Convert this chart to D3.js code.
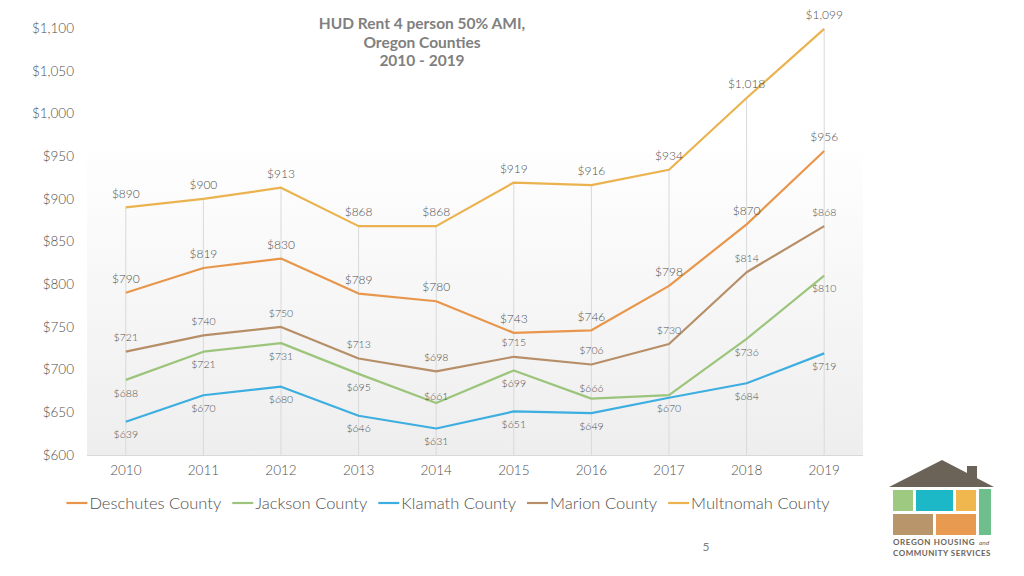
<!DOCTYPE html>
<html>
<head>
<meta charset="utf-8">
<script src="https://cdn.jsdelivr.net/npm/d3@7"></script>
<style>
  html, body { margin: 0; padding: 0; background: #ffffff; }
  svg { display: block; }
  text { font-family: Lato, "Open Sans", sans-serif; }
</style>
</head>
<body>
<svg id="chart" width="1024" height="576"></svg>
<script>
// ---------- DATA ----------
const years = ["2010","2011","2012","2013","2014","2015","2016","2017","2018","2019"];
const deschutes = [790, 819, 830, 789, 780, 743, 746, 798, 870, 956];
const jackson   = [688, 721, 731, 695, 661, 699, 666, 670, 736, 810];
const klamath   = [639, 670, 680, 646, 631, 651, 649, 667, 684, 719];
const marion    = [721, 740, 750, 713, 698, 715, 706, 730, 814, 868];
const multnomah = [890, 900, 913, 868, 868, 919, 916, 934, 1018, 1099];
const seriesNames = ["Deschutes County","Jackson County","Klamath County","Marion County","Multnomah County"];
const yTicks = [600, 650, 700, 750, 800, 850, 900, 950, 1000, 1050, 1100];
const titleLines = ["HUD Rent 4 person 50% AMI,", "Oregon Counties", "2010 - 2019"];

// ---------- STYLE / LAYOUT ----------
const colors = ["#E8964B", "#9CC57B", "#3DAEE0", "#B68E67", "#EBB34F"];
const labelSize = [12, 10.5, 10.5, 10.5, 12];
// label placement: default side per series, with a few exceptions (index -> dy, or null = hidden)
const labelSide = [-14, 13, 13, -14, -14];
const labelExceptions = [{}, {4: -7, 6: -10}, {7: null}, {}, {}];
const textColor = "#4f4f4f";

const series = seriesNames.map((name, i) => ({
  name, color: colors[i],
  values: [deschutes, jackson, klamath, marion, multnomah][i]
}));

const svg = d3.select("#chart");
const plot = { left: 87, right: 863, top: 28, bottom: 455 };

const x = d3.scaleBand().domain(years).range([plot.left, plot.right]);
const xc = d => x(d) + x.bandwidth() / 2;
const y = d3.scaleLinear().domain([600, 1100]).range([plot.bottom, plot.top]);

// background gradient
const defs = svg.append("defs");
const grad = defs.append("linearGradient").attr("id", "bg").attr("x1", 0).attr("y1", 0).attr("x2", 0).attr("y2", 1);
grad.append("stop").attr("offset", "0%").attr("stop-color", "#ffffff");
grad.append("stop").attr("offset", "15%").attr("stop-color", "#ffffff");
grad.append("stop").attr("offset", "100%").attr("stop-color", "#eeeeee");
svg.append("rect").attr("x", plot.left).attr("y", y(1050) + 10)
  .attr("width", plot.right - plot.left).attr("height", plot.bottom - y(1050) - 10)
  .attr("fill", "url(#bg)");

// drop lines from highest value to axis
const maxByYear = years.map((yr, i) => d3.max(series, s => s.values[i]));
svg.append("g").selectAll("line").data(years).join("line")
  .attr("x1", d => xc(d)).attr("x2", d => xc(d))
  .attr("y1", (d, i) => y(maxByYear[i])).attr("y2", plot.bottom)
  .attr("stroke", "#d9d9d9").attr("stroke-width", 1);

// bottom axis line
svg.append("line").attr("x1", plot.left).attr("x2", plot.right)
  .attr("y1", plot.bottom + 0.5).attr("y2", plot.bottom + 0.5)
  .attr("stroke", "#d9d9d9").attr("stroke-width", 1);

// Y axis
const yAxis = d3.axisLeft(y).tickValues(yTicks).tickSize(0).tickPadding(0)
  .tickFormat(d => "$" + d3.format(",")(d));
const gy = svg.append("g").attr("transform", `translate(74,0)`).call(yAxis);
gy.select(".domain").remove();
gy.selectAll("text").attr("font-size", 13.5).attr("fill", textColor).attr("font-weight", 300)
  .attr("font-family", "Lato, sans-serif");

// X axis
const xAxis = d3.axisBottom(x).tickSize(0).tickPadding(0);
const gx = svg.append("g").attr("transform", `translate(0,${plot.bottom + 10})`).call(xAxis);
gx.select(".domain").remove();
gx.selectAll("text").attr("font-size", 13.5).attr("fill", textColor).attr("font-weight", 300)
  .attr("font-family", "Lato, sans-serif");

// lines
const line = d3.line().x((d, i) => xc(years[i])).y(d => y(d));
svg.append("g").selectAll("path").data(series).join("path")
  .attr("d", d => line(d.values))
  .attr("fill", "none").attr("stroke", d => d.color).attr("stroke-width", 2.2)
  .attr("stroke-linejoin", "round");

// data labels
series.forEach((s, si) => {
  const g = svg.append("g");
  s.values.forEach((v, i) => {
    const ex = labelExceptions[si];
    let dy = labelSide[si];
    if (i in ex) { if (ex[i] === null) return; dy = ex[i]; }
    const fs = labelSize[si];
    g.append("text")
      .attr("x", xc(years[i]))
      .attr("y", y(v) + dy + fs * 0.35)
      .attr("text-anchor", "middle")
      .attr("font-size", fs)
      .attr("font-weight", 300)
      .attr("fill", textColor)
      .text("$" + d3.format(",")(v));
  });
});

// title
svg.append("g").selectAll("text").data(titleLines).join("text")
  .attr("x", 422).attr("y", (d, i) => 29 + i * 18.5)
  .attr("text-anchor", "middle").attr("font-size", 15.5).attr("font-weight", "bold")
  .attr("fill", "#808080").text(d => d);

// legend
const legend = svg.append("g");
let lx = 0;
series.forEach((s, i) => {
  const g = legend.append("g");
  g.append("line").attr("x1", 0).attr("x2", 21).attr("y1", 0).attr("y2", 0)
    .attr("stroke", s.color).attr("stroke-width", 2.2);
  const t = g.append("text").attr("x", 23).attr("y", 5.8).attr("font-size", 16.5)
    .attr("fill", textColor).attr("font-weight", 300).text(s.name);
  const w = 23 + t.node().getComputedTextLength();
  g.attr("transform", `translate(${lx},0)`);
  lx += w + 11;
});
const legendW = lx - 11;
legend.attr("transform", `translate(${448 - legendW / 2},503)`);

// page number
svg.append("text").attr("x", 706).attr("y", 551).attr("text-anchor", "middle")
  .attr("font-size", 12).attr("fill", "#7f7f7f").text("5");

// logo
const logo = svg.append("g");
logo.append("polygon").attr("points", "889,487 942,460 994,487").attr("fill", "#6B6357");
logo.append("rect").attr("x", 967).attr("y", 466).attr("width", 10).attr("height", 12).attr("fill", "#6B6357");
const blocks = [
  [893, 490, 20, 21, "#9DCA80"],
  [916, 490, 37, 21, "#1DB8C8"],
  [956, 490, 20, 21, "#F0B74F"],
  [979, 489, 12, 46, "#6EBF8B"],
  [893, 514, 40, 21, "#B9956B"],
  [936, 514, 40, 21, "#E99A51"]
];
logo.selectAll("rect.b").data(blocks).join("rect").attr("class", "b")
  .attr("x", d => d[0]).attr("y", d => d[1]).attr("width", d => d[2]).attr("height", d => d[3])
  .attr("fill", d => d[4]);
logo.append("text").attr("x", 893).attr("y", 545).attr("font-size", 8).attr("font-weight", "bold")
  .attr("fill", "#6B6357").attr("letter-spacing", 0.6).text("OREGON HOUSING");
logo.append("text").attr("x", 979).attr("y", 545).attr("font-size", 6.5).attr("font-style", "italic")
  .attr("fill", "#6B6357").text("and");
logo.append("text").attr("x", 893).attr("y", 556).attr("font-size", 8).attr("font-weight", "bold")
  .attr("fill", "#6B6357").attr("letter-spacing", 0.5).text("COMMUNITY SERVICES");
</script>
</body>
</html>
